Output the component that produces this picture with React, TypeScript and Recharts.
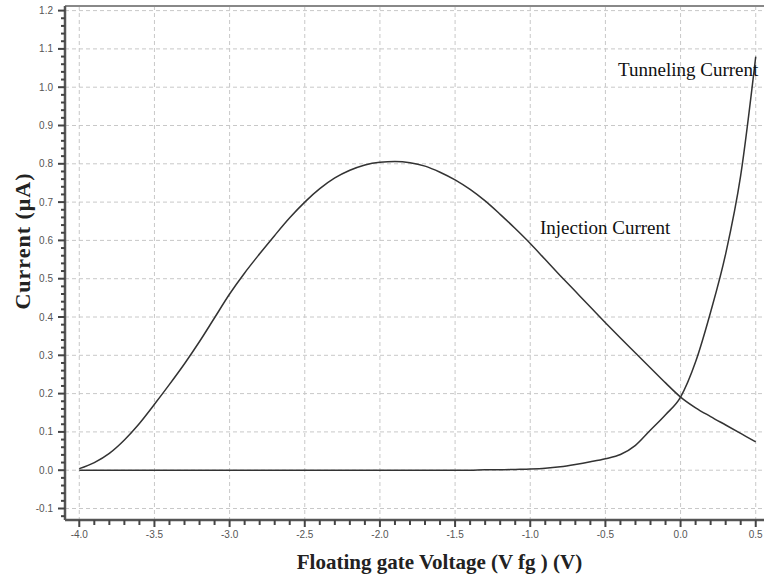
import { LineChart, Line, XAxis, YAxis, CartesianGrid, ReferenceLine, ReferenceDot } from 'recharts';

// floating gate voltage (V)
const voltage = [
  -4.0, -3.9, -3.8, -3.7, -3.6, -3.5, -3.4, -3.3, -3.2, -3.1,
  -3.0, -2.9, -2.8, -2.7, -2.6, -2.5, -2.4, -2.3, -2.2, -2.1,
  -2.0, -1.9, -1.8, -1.7, -1.6, -1.5, -1.4, -1.3, -1.2, -1.1,
  -1.0, -0.9, -0.8, -0.7, -0.6, -0.5, -0.4, -0.3, -0.2, -0.1,
  0.0, 0.1, 0.2, 0.3, 0.4, 0.5,
];

// injection current (uA)
const injection = [
  0.004, 0.020, 0.044, 0.079, 0.122, 0.172, 0.224, 0.278, 0.336, 0.398,
  0.460, 0.515, 0.565, 0.613, 0.659, 0.700, 0.735, 0.763, 0.783, 0.797,
  0.804, 0.806, 0.803, 0.794, 0.778, 0.758, 0.733, 0.703, 0.668, 0.631,
  0.592, 0.550, 0.508, 0.467, 0.426, 0.385, 0.345, 0.306, 0.267, 0.228,
  0.191, 0.163, 0.140, 0.118, 0.096, 0.074,
];

// tunneling current (uA)
const tunneling = [
  0, 0, 0, 0, 0, 0, 0, 0, 0, 0,
  0, 0, 0, 0, 0, 0, 0, 0, 0, 0,
  0, 0, 0, 0, 0, 0, 0, 0.001, 0.001, 0.002,
  0.003, 0.005, 0.009, 0.015, 0.022, 0.030, 0.041, 0.065, 0.105, 0.145,
  0.191, 0.283, 0.413, 0.565, 0.770, 1.08,
];

const xMajor = [-4.0, -3.5, -3.0, -2.5, -2.0, -1.5, -1.0, -0.5, 0.0, 0.5];
const xMinor = [
  -3.9, -3.8, -3.7, -3.6, -3.4, -3.3, -3.2, -3.1, -2.9, -2.8, -2.7, -2.6,
  -2.4, -2.3, -2.2, -2.1, -1.9, -1.8, -1.7, -1.6, -1.4, -1.3, -1.2, -1.1,
  -0.9, -0.8, -0.7, -0.6, -0.4, -0.3, -0.2, -0.1, 0.1, 0.2, 0.3, 0.4,
];
const yMajor = [-0.1, 0.0, 0.1, 0.2, 0.3, 0.4, 0.5, 0.6, 0.7, 0.8, 0.9, 1.0, 1.1, 1.2];
const yMinor: number[] = [];
for (let i = -6; i <= 60; i++) {
  if (i % 5 !== 0) yMinor.push(i / 50);
}

const X_MIN = -4.095;
const X_MAX = 0.555;
const Y_MIN = -0.13;
const Y_MAX = 1.212;

const labels = [
  { text: 'Tunneling Current', x: -0.416, y: 1.03 },
  { text: 'Injection Current', x: -0.935, y: 0.618 },
];

const data = voltage.map((v, i) => ({ v, inj: injection[i], tun: tunneling[i] }));

const isMajor = (val: number, list: number[]) => list.some((m) => Math.abs(m - val) < 1e-6);

function XTick({ x, y, payload }: any) {
  const major = isMajor(payload.value, xMajor);
  return (
    <g>
      <line x1={x} x2={x} y1={y} y2={y + (major ? 7 : 5)} stroke="#444" strokeWidth={2} />
      {major && (
        <text x={x} y={y + 18} textAnchor="middle" fontSize={10} fill="#555" fontFamily="Liberation Sans">
          {payload.value.toFixed(1)}
        </text>
      )}
    </g>
  );
}

function YTick({ x, y, payload }: any) {
  const major = isMajor(payload.value, yMajor);
  return (
    <g>
      <line x1={x - (major ? 7 : 4)} x2={x} y1={y} y2={y} stroke="#444" strokeWidth={2} />
      {major && (
        <text x={x - 12} y={y + 3.5} textAnchor="end" fontSize={10} fill="#555" fontFamily="Liberation Sans">
          {payload.value.toFixed(1)}
        </text>
      )}
    </g>
  );
}

function YTitle({ viewBox }: any) {
  const cx = viewBox.x + 22;
  const cy = viewBox.y + viewBox.height / 2 - 22;
  return (
    <text
      x={cx}
      y={cy}
      transform={`rotate(-90 ${cx} ${cy})`}
      textAnchor="middle"
      dominantBaseline="central"
      fontSize={22}
      fontWeight="bold"
      letterSpacing={1}
      fill="#222"
      fontFamily="Liberation Serif"
    >
      Current (μA)
    </text>
  );
}

export default function App() {
  return (
    <div style={{ position: 'absolute', left: 0, top: 0, background: '#fff' }}>
      <LineChart width={764} height={577} data={data} margin={{ top: 6, right: 0, bottom: 0, left: 0 }}>
        <CartesianGrid
          horizontalValues={yMajor}
          verticalValues={xMajor}
          stroke="#c8c8c8"
          strokeDasharray="4 3"
        />
        <XAxis
          dataKey="v"
          type="number"
          domain={[X_MIN, X_MAX]}
          allowDataOverflow
          ticks={[...xMajor, ...xMinor].sort((a, b) => a - b)}
          interval={0}
          height={57}
          tickLine={false}
          tickSize={0}
          tickMargin={0}
          tick={<XTick />}
          axisLine={{ stroke: '#555', strokeWidth: 2.5 }}
          label={{
            value: 'Floating gate Voltage (V  fg ) (V)',
            position: 'insideBottom',
            offset: 8,
            dx: 25,
            fontSize: 21,
            fontWeight: 'bold',
            fill: '#222',
            fontFamily: 'Liberation Serif',
          }}
        />
        <YAxis
          type="number"
          domain={[Y_MIN, Y_MAX]}
          allowDataOverflow
          ticks={[...yMajor, ...yMinor].sort((a, b) => a - b)}
          interval={0}
          width={65}
          tickLine={false}
          tickSize={0}
          tickMargin={0}
          tick={<YTick />}
          axisLine={{ stroke: '#555', strokeWidth: 2.5 }}
          label={<YTitle />}
        />
        <ReferenceLine y={Y_MAX} stroke="#888" strokeWidth={2} />
        <Line
          type="monotone"
          dataKey="inj"
          stroke="#333"
          strokeWidth={1.5}
          dot={false}
          isAnimationActive={false}
        />
        <Line
          type="monotone"
          dataKey="tun"
          stroke="#333"
          strokeWidth={1.5}
          dot={false}
          isAnimationActive={false}
        />
        {labels.map((l) => (
          <ReferenceDot
            key={l.text}
            x={l.x}
            y={l.y}
            r={0}
            stroke="none"
            fill="none"
            label={({ viewBox }: any) => (
              <text
                x={viewBox.x}
                y={viewBox.y}
                fontSize={19}
                fill="#111"
                fontFamily="Liberation Serif"
              >
                {l.text}
              </text>
            )}
          />
        ))}
      </LineChart>
    </div>
  );
}
